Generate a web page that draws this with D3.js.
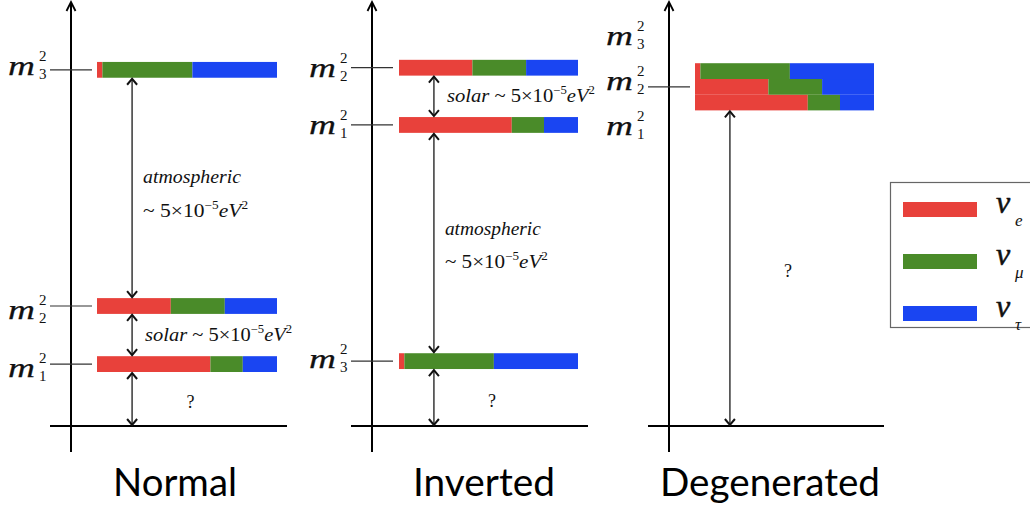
<!DOCTYPE html>
<html>
<head>
<meta charset="utf-8">
<script src="https://cdn.jsdelivr.net/npm/d3@7"></script>
<style>
  html, body { margin: 0; background: #fff; }
  svg { display: block; }
</style>
</head>
<body>
<svg id="chart" width="1030" height="510"></svg>
<script>
// Flavour content (|U|^2 shares) of each neutrino mass eigenstate
const flavourNames = ["e", "μ", "τ"];
const massStates = ["1", "2", "3"];
const flavourShares = [
  [0.63, 0.18, 0.19],   // m1
  [0.41, 0.30, 0.29],   // m2
  [0.03, 0.50, 0.47]    // m3
];

// Schematic mass-squared levels of m1, m2, m3 in each ordering
const hierarchyNames = ["Normal", "Inverted", "Degenerated"];
const normalLevels = [1.46, 2.83, 8.40];
const invertedLevels = [7.10, 8.45, 1.53];
const degenerateLevels = [7.63, 8.00, 8.37];
const degenerateLabelLevels = [6.98, 8.00, 9.10];

// Splitting annotations
const atmosphericWord = "atmospheric";
const solarWord = "solar";
const splitValue = "5×10";
const splitExponent = "−5";
const unknownMark = "?";

const flavourColors = ["#e8413b", "#4a8b29", "#1a45f2"];
const serif = "'Liberation Serif', 'DejaVu Serif', serif";

const svg = d3.select("#chart");
const y = d3.scaleLinear().domain([0, 10]).range([426, 2]);
const barH = 15.8;

const stacked = d3.stack()
  .keys([0, 1, 2])
  .value((d, k) => d[k])(flavourShares);

const panels = [
  {
    name: hierarchyNames[0], levels: normalLevels, labelLevels: normalLevels,
    axisX: 71, hx0: 50, hx1: 287, barX0: 97, barX1: 277,
    ticks: [0, 1, 2], labelDy: [13, 13, 5],
    gaps: [
      { up: 2, low: 1, kind: "atm", dy: [-5, 29], w: [98, 105] },
      { up: 1, low: 0, kind: "solar", w: 147 },
      { up: 0, low: null, kind: "unknown" }
    ],
    titleX: 175, titleW: 124
  },
  {
    name: hierarchyNames[1], levels: invertedLevels, labelLevels: invertedLevels,
    axisX: 372, hx0: 351, hx1: 588, barX0: 399, barX1: 578,
    ticks: [0, 1, 2], labelDy: [9, 9, 7],
    gaps: [
      { up: 1, low: 0, kind: "solar", w: 148 },
      { up: 0, low: 2, kind: "atm", dy: [-8, 25], w: [96, 103] },
      { up: 2, low: null, kind: "unknown" }
    ],
    titleX: 484, titleW: 142
  },
  {
    name: hierarchyNames[2], levels: degenerateLevels, labelLevels: degenerateLabelLevels,
    axisX: 669, hx0: 648, hx1: 884, barX0: 695, barX1: 874,
    ticks: [1], labelDy: [5, 3, 5],
    gaps: [
      { up: 0, low: null, kind: "unknown" }
    ],
    titleX: 770, titleW: 220
  }
];

function chevron(g, x, yTip, dir, w, h, color, sw) {
  g.append("path")
    .attr("d", `M${x - w},${yTip + dir * h}L${x},${yTip}L${x + w},${yTip + dir * h}`)
    .attr("fill", "none")
    .attr("stroke", color)
    .attr("stroke-width", sw)
    .attr("stroke-linejoin", "miter");
}

function doubleArrow(g, x, y1, y2) {
  g.append("line")
    .attr("x1", x).attr("x2", x)
    .attr("y1", y1 + 1).attr("y2", y2 - 1)
    .attr("stroke", "#444").attr("stroke-width", 1.6);
  chevron(g, x, y1 + 1, 1, 5, 6, "#111", 2);
  chevron(g, x, y2 - 1, -1, 5, 6, "#111", 2);
}

function splitText(g, x, yb, lead, size, withIt, width) {
  const t = g.append("text")
    .attr("x", x).attr("y", yb)
    .attr("font-family", serif)
    .attr("font-size", size)
    .attr("fill", "#111")
    .attr("textLength", width)
    .attr("lengthAdjust", "spacingAndGlyphs");
  if (withIt) t.append("tspan").attr("font-style", "italic").text(withIt);
  t.append("tspan").text(lead + splitValue);
  t.append("tspan").attr("dy", -8).attr("font-size", size * 0.62).text(splitExponent);
  t.append("tspan").attr("dy", 8).attr("font-style", "italic").text("eV");
  t.append("tspan").attr("dy", -8).attr("font-size", size * 0.62).text("2");
  return t;
}

// m with stacked superscript 2 and subscript index
function massLabel(g, x, yb, idx) {
  g.append("text")
    .attr("x", x).attr("y", yb)
    .attr("font-family", serif)
    .attr("font-style", "italic")
    .attr("font-size", 28)
    .attr("textLength", 27)
    .attr("lengthAdjust", "spacingAndGlyphs")
    .attr("stroke", "#111").attr("stroke-width", 0.25)
    .attr("fill", "#111")
    .text("m");
  g.append("text")
    .attr("x", x + 31).attr("y", yb - 14)
    .attr("font-family", serif)
    .attr("font-size", 15)
    .attr("fill", "#111")
    .text("2");
  g.append("text")
    .attr("x", x + 31).attr("y", yb + 4)
    .attr("font-family", serif)
    .attr("font-size", 15)
    .attr("fill", "#111")
    .text(massStates[idx]);
}

panels.forEach(p => {
  const g = svg.append("g");
  const xBar = d3.scaleLinear().domain([0, 1]).range([p.barX0, p.barX1]);

  // axes
  g.append("line")
    .attr("x1", p.axisX).attr("x2", p.axisX)
    .attr("y1", 2).attr("y2", 452)
    .attr("stroke", "#000").attr("stroke-width", 2);
  chevron(g, p.axisX, 2, 1, 4.5, 9, "#000", 1.8);
  g.append("line")
    .attr("x1", p.hx0).attr("x2", p.hx1)
    .attr("y1", y(0)).attr("y2", y(0))
    .attr("stroke", "#000").attr("stroke-width", 2);

  // level ticks
  p.ticks.forEach(i => {
    g.append("line")
      .attr("x1", p.axisX - 21).attr("x2", p.axisX + 21)
      .attr("y1", y(p.levels[i])).attr("y2", y(p.levels[i]))
      .attr("stroke", "#333").attr("stroke-width", 1.2);
  });

  // mass labels
  p.labelLevels.forEach((lv, i) => {
    massLabel(g, p.axisX - 63, y(lv) + p.labelDy[i], i);
  });

  // flavour-composition bars
  stacked.forEach((series, k) => {
    g.selectAll(null)
      .data(series)
      .join("rect")
      .attr("x", d => xBar(d[0]))
      .attr("width", d => xBar(d[1]) - xBar(d[0]))
      .attr("y", (d, i) => y(p.levels[i]) - barH / 2)
      .attr("height", barH)
      .attr("fill", flavourColors[k]);
  });

  // splittings
  const ax = xBar(0.195);
  p.gaps.forEach(gp => {
    const y1 = y(p.levels[gp.up]) + barH / 2;
    const y2 = gp.low === null ? y(0) : y(p.levels[gp.low]) - barH / 2;
    const mid = (y1 + y2) / 2;
    doubleArrow(g, ax, y1, y2);
    if (gp.kind === "atm") {
      g.append("text")
        .attr("x", ax + 11).attr("y", mid + gp.dy[0])
        .attr("font-family", serif).attr("font-style", "italic")
        .attr("font-size", 19).attr("fill", "#111")
        .attr("textLength", gp.w[0])
        .attr("lengthAdjust", "spacingAndGlyphs")
        .text(atmosphericWord);
      splitText(g, ax + 11, mid + gp.dy[1], "~ ", 19, null, gp.w[1]);
    } else if (gp.kind === "solar") {
      splitText(g, ax + 13, mid + 6, " ~ ", 19, solarWord, gp.w);
    } else {
      g.append("text")
        .attr("x", xBar(0.52)).attr("y", mid + 9)
        .attr("text-anchor", "middle")
        .attr("font-family", serif)
        .attr("font-size", 18).attr("fill", "#111")
        .text(unknownMark);
    }
  });

  // ordering title
  g.append("text")
    .attr("x", p.titleX).attr("y", 496)
    .attr("text-anchor", "middle")
    .attr("font-family", "Lato, 'Open Sans', sans-serif")
    .attr("font-size", 39)
    .attr("textLength", p.titleW)
    .attr("lengthAdjust", "spacingAndGlyphs")
    .attr("fill", "#000")
    .text(p.name);
});

// legend
const lg = svg.append("g").attr("transform", "translate(890,182)");
lg.append("rect")
  .attr("x", 0.5).attr("y", 0.5)
  .attr("width", 150).attr("height", 145)
  .attr("fill", "#fff").attr("stroke", "#666").attr("stroke-width", 1.2);
flavourNames.forEach((f, i) => {
  lg.append("rect")
    .attr("x", 13).attr("y", 20 + i * 52)
    .attr("width", 74).attr("height", 15)
    .attr("fill", flavourColors[i]);
  const t = lg.append("text")
    .attr("x", 106).attr("y", 31 + i * 52)
    .attr("font-family", serif).attr("font-style", "italic")
    .attr("fill", "#111");
  t.append("tspan")
    .attr("font-size", 32)
    .attr("stroke", "#111").attr("stroke-width", 0.5)
    .text("ν");
  t.append("tspan")
    .attr("x", 125).attr("dy", 13)
    .attr("font-size", 17)
    .text(f);
});
</script>
</body>
</html>
